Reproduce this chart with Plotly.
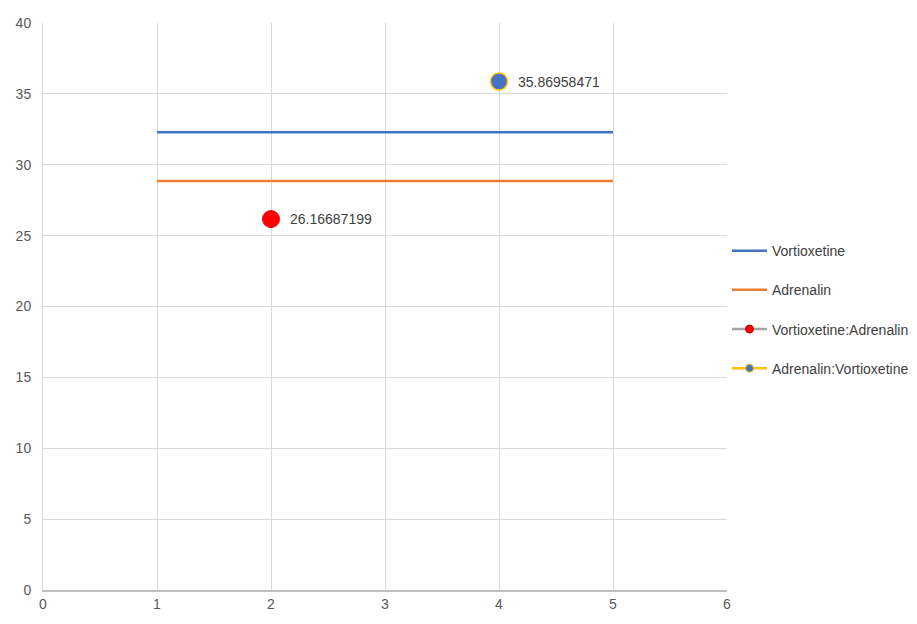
import plotly.graph_objects as go

line_x = [1, 5]
vort_y = [32.3, 32.3]
adren_y = [28.85, 28.85]
va_x = [2]
va_y = [26.16687199]
av_x = [4]
av_y = [35.86958471]
va_label = "26.16687199"
av_label = "35.86958471"
x_ticks = [0, 1, 2, 3, 4, 5, 6]
y_ticks = [0, 5, 10, 15, 20, 25, 30, 35, 40]

FONT = "Liberation Sans Narrow, Arial Narrow, Liberation Sans, sans-serif"

fig = go.Figure()
fig.add_trace(go.Scatter(x=line_x, y=vort_y, mode="lines", name="Vortioxetine",
                         line=dict(color="#4472C4", width=2.5), legendgroup="a"))
fig.add_trace(go.Scatter(x=line_x, y=adren_y, mode="lines", name="Adrenalin",
                         line=dict(color="#ED7D31", width=2.5), legendgroup="b"))
# data markers (no legend)
fig.add_trace(go.Scatter(x=va_x, y=va_y, mode="markers", showlegend=False,
                         marker=dict(color="#FF0000", size=17, line=dict(color="#FF0000", width=1))))
fig.add_trace(go.Scatter(x=av_x, y=av_y, mode="markers", showlegend=False,
                         marker=dict(color="#4472C4", size=17, line=dict(color="#FFC000", width=1.5))))
# legend entries
fig.add_trace(go.Scatter(x=[None], y=[None], mode="lines+markers", name="Vortioxetine:Adrenalin",
                         marker=dict(color="#FF0000", size=8, line=dict(color="#C00000", width=1)),
                         line=dict(color="#A5A5A5", width=2.5), legendgroup="c"))
fig.add_trace(go.Scatter(x=[None], y=[None], mode="lines+markers", name="Adrenalin:Vortioxetine",
                         marker=dict(color="#4472C4", size=8, line=dict(color="#FFC000", width=1)),
                         line=dict(color="#FFC000", width=2.5), legendgroup="d"))

for xv, yv, lab in [(va_x[0], va_y[0], va_label), (av_x[0], av_y[0], av_label)]:
    fig.add_annotation(x=xv, y=yv, text=lab, showarrow=False, xanchor="left",
                       xshift=17, font=dict(family=FONT, size=14, color="#404040"))

fig.update_layout(
    width=917, height=624,
    margin=dict(l=43, r=190, t=23, b=34, autoexpand=False),
    paper_bgcolor="white", plot_bgcolor="white",
    font=dict(family=FONT, size=14, color="#595959"),
    showlegend=True,
    legend=dict(x=1.0, y=0.626, xanchor="left", yanchor="top",
                font=dict(family=FONT, size=14, color="#404040"),
                tracegroupgap=18, traceorder="grouped", itemwidth=35,
                bgcolor="rgba(0,0,0,0)"),
    xaxis=dict(range=[0, 6], tickvals=x_ticks, showgrid=True, gridcolor="#D9D9D9",
               zeroline=False, showline=True, linecolor="#BFBFBF", linewidth=1.5,
               mirror=False, ticks="", tickfont=dict(size=14, color="#595959")),
    yaxis=dict(range=[0, 40], tickvals=y_ticks, showgrid=True, gridcolor="#D9D9D9",
               zeroline=False, showline=True, linecolor="#D9D9D9", ticks="",
               ticklabelstandoff=8, tickfont=dict(size=14, color="#595959")),
)

fig.write_html("out.html")
